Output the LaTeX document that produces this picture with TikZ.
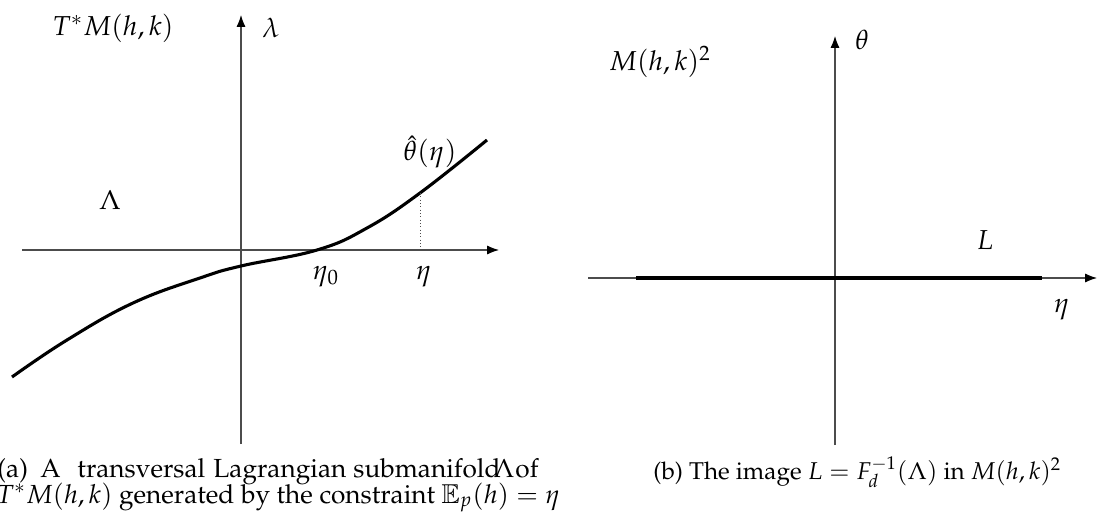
\documentclass[tikz,border=0pt]{standalone}
\usepackage[T1]{fontenc}
\usepackage[noBBpl]{mathpazo}
\usepackage{amssymb}
\usetikzlibrary{arrows.meta}
\begin{document}
\begin{tikzpicture}[x=0.42pt,y=-0.42pt,
  axis/.style={draw=black!70,line width=0.45pt,-{Latex[length=5pt,width=3.8pt,black]}},
  curve/.style={line width=1.3pt,black},
  lbl/.style={font=\fontsize{11.5}{13}\selectfont,inner sep=0pt},
  captext/.style={font=\fontsize{11}{13}\selectfont,inner sep=0pt,anchor=base west},
  captextb/.style={font=\fontsize{10.2}{12.4}\selectfont,inner sep=0pt}]
\useasboundingbox (0,0) rectangle (1097,516);
% ---------- left panel ----------
\coordinate (lxS) at (22,250);
\coordinate (lxE) at (499,250);
\coordinate (lyS) at (241,444);
\coordinate (lyE) at (241,15);
\draw[axis] (lxS) -- (lxE);
\draw[axis] (lyS) -- (lyE);
\draw[curve] plot[smooth,tension=0.7] coordinates {(12,377) (67,340) (133,303) (200,278) (241,266) (317,250) (367,228) (420,193) (487,140)};
\coordinate (pt) at (420,193);
\coordinate (pb) at (420,250);
\draw[densely dotted,line width=0.4pt,black!70] (pt) -- (pb);
\node[lbl] (TM) at (113,28) {$T^*M(h,k)$};
\node[lbl] (lam) at (271,28) {$\lambda$};
\node[lbl] (Lam) at (110,200) {$\Lambda$};
\node[lbl] (th) at (430,152) {$\hat\theta(\eta)$};
\node[lbl] (eta0) at (326,277) {$\eta_0$};
\node[lbl] (eta) at (424,277) {$\eta$};
% caption (a), first (justified) line word by word
\node[captext] (wa1) at (-3,477) {(a)};
\node[captext] (wa2) at (40,477) {A};
\node[captext] (wa3) at (77,477) {transversal};
\node[captext] (wa4) at (213,477) {Lagrangian};
\node[captext] (wa5) at (353,477) {submanifold};
\node[captext] (wa6) at (493,477) {$\Lambda$};
\node[captext] (wa7) at (515,477) {of};
\node[captext] (capa2) at (-4,503) {$T^*M(h,k)$ generated by the constraint $\mathbb{E}_p(h)=\eta$};
% ---------- right panel ----------
\coordinate (rxS) at (588,278);
\coordinate (rxE) at (1097,278);
\coordinate (ryS) at (835,445);
\coordinate (ryE) at (835,36);
\draw[axis] (rxS) -- (rxE);
\draw[axis] (ryS) -- (ryE);
\coordinate (L1) at (636,278);
\coordinate (L2) at (1042,278);
\draw[curve] (L1) -- (L2);
\node[lbl] (Mk) at (660,62) {$M(h,k)^2$};
\node[lbl] (thr) at (862,40) {$\theta$};
\node[lbl] (Lr) at (985,240) {$L$};
\node[lbl] (etar) at (1062,310) {$\eta$};
\node[captextb,anchor=base west] (capb) at (653,479) {(b) The image $L=F_d^{-1}(\Lambda)$ in $M(h,k)^2$};
\end{tikzpicture}
\end{document}
